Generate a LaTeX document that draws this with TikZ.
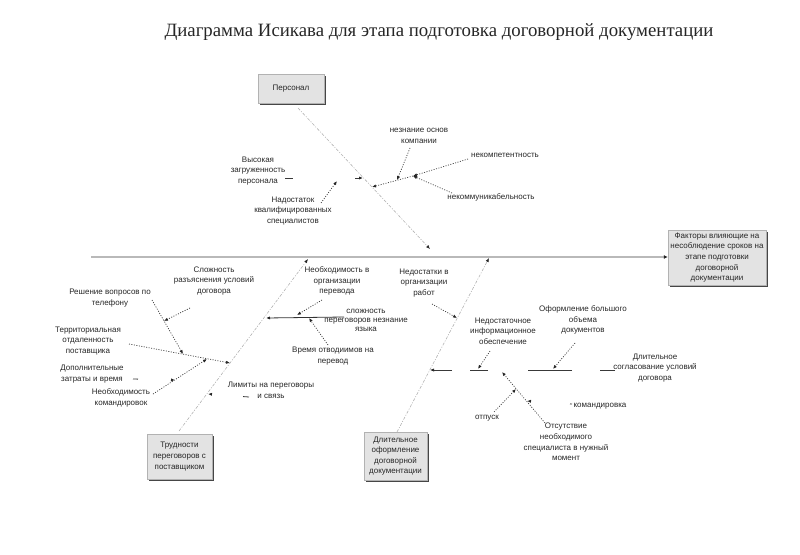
\documentclass[tikz,border=0pt]{standalone}
\usepackage{fontspec}
\setmainfont{Liberation Sans}
\newfontfamily\titlefont{Liberation Serif}
\usetikzlibrary{arrows.meta,shadows}
\newcommand\lblfont{\fontsize{8}{10.6}\selectfont}
\newcommand\lbltight{\fontsize{8}{9}\selectfont}
\begin{document}
\begin{tikzpicture}[x=1pt,y=-1pt,
  lbl/.style={font=\lblfont, text=black!85, align=center, inner sep=0pt},
  catbox/.style={draw=gray!60, fill=gray!22, font=\lblfont, text=black!85, align=center, inner sep=1pt,
    drop shadow={shadow xshift=1.5pt, shadow yshift=-1.5pt, fill=gray!55!black, opacity=1}},
  tipped/.style={-{Latex[length=4pt,width=3.2pt,color=black!85]}},
  spine/.style={draw=gray!55, line width=2pt, -{Latex[length=4pt,width=4pt,color=black!85]}},
  bone/.style={tipped, draw=gray!60, line width=0.6pt, dash pattern=on 3pt off 1.5pt on 1pt off 1.5pt},
  sub/.style={tipped, draw=gray!45!black, line width=0.7pt, dash pattern=on 1pt off 1.5pt},
  stub/.style={tipped, draw=gray!45!black, line width=0.8pt},
  solidsub/.style={tipped, draw=black!80, line width=0.8pt}]
\useasboundingbox (0,0) rectangle (800,554);

% title
\node[font=\titlefont\fontsize{18.8}{20}\selectfont, text=black!85] (title) at (439,32)
  {Диаграмма Исикава для этапа подготовка договорной документации};

% category boxes
\node[catbox, minimum width=66pt, minimum height=29pt] (pers) at (291,88.5) {Персонал};
\node[catbox, minimum width=98pt, minimum height=55pt] (goal) at (717,257.5)
  {Факторы влияющие на\\несоблюдение сроков на\\этапе подготовки\\договорной\\документации};
\node[catbox, minimum width=65pt, minimum height=45pt] (trud) at (179.5,456.5)
  {Трудности\\переговоров с\\поставщиком};
\node[catbox, minimum width=63pt, minimum height=48pt] (dlit) at (395.5,456)
  {Длительное\\оформление\\договорной\\документации};

% spine
\coordinate (s0) at (91,257);
\draw[spine] (s0) -- (goal.west |- s0);

% main bones
\coordinate (pA) at (298,108); \coordinate (pB) at (430,249);
\coordinate (tA) at (179,431); \coordinate (tB) at (308,259);
\coordinate (dA) at (397,432); \coordinate (dB) at (489,258);
\draw[bone] (pA) -- (pB);
\draw[bone] (tA) -- (tB);
\draw[bone] (dA) -- (dB);

% ---- Персонал group
\node[lbl] (vys) at (258,171) {Высокая\\загруженность\\персонала};
\coordinate (vysS) at (285,178); \coordinate (vysT) at (363,178);
\draw[stub, dash pattern=on 8pt off 62pt on 8pt] (vysS) -- (vysT);
\node[lbl] (nedo) at (293,211) {Надостаток\\квалифицированных\\специалистов};
\coordinate (nedoS) at (321,203); \coordinate (nedoT) at (337,181);
\draw[sub] (nedoS) -- (nedoT);
\node[lbl] (zn) at (419,136) {незнание основ\\компании};
\node[lbl] (komp) at (505,155) {некомпетентность};
\node[lbl] (komm) at (491,197) {некоммуникабельность};
\coordinate (j1) at (413,176); \coordinate (pT) at (372,187);
\coordinate (kompS) at (468,159); \coordinate (kommS) at (452,193);
\coordinate (znS) at (410,148); \coordinate (znT) at (397,180);
\draw[sub] (kompS) -- (j1);
\draw[sub] (kommS) -- (j1);
\draw[sub] (j1) -- (pT);
\draw[sub] (znS) -- (znT);

% ---- Трудности group
\node[lbl] (lim) at (271,390) {Лимиты на переговоры\\и связь};
\coordinate (limS) at (249,397); \coordinate (limT) at (208,394);
\draw[stub, dash pattern=on 6pt off 60pt] (limS) -- (limT);
\node[lbl] (terr) at (88,341) {Территориальная\\отдаленность\\поставщика};
\coordinate (terrS) at (129,344); \coordinate (terrT) at (230,363);
\draw[sub] (terrS) -- (terrT);
\node[lbl] (kom) at (121,398) {Необходимость\\командировок};
\coordinate (komS) at (153,394); \coordinate (komT) at (207,359);
\draw[sub] (komS) -- (komT);
\node[lbl] (dop) at (92,374) {Дополнительные\\затраты и время};
\coordinate (dopS) at (133,379); \coordinate (dopT) at (175,380);
\draw[stub, dash pattern=on 5pt off 60pt] (dopS) -- (dopT);
\node[lbl] (resh) at (110,298) {Решение вопросов по\\телефону};
\coordinate (reshS) at (152,300); \coordinate (reshT) at (183,354);
\draw[sub] (reshS) -- (reshT);
\node[lbl] (slr) at (214,281) {Сложность\\разъяснения условий\\договора};
\coordinate (slrS) at (190,308); \coordinate (slrT) at (164,321);
\draw[sub] (slrS) -- (slrT);
\node[lbl, font=\lbltight] (slp) at (366,320) {сложность\\переговоров незнание\\языка};
\coordinate (slpS) at (344,317); \coordinate (slpT) at (266,318);
\draw[solidsub] (slpS) -- (slpT);
\node[lbl] (neop) at (337,281) {Необходимость в\\организации\\перевода};
\coordinate (neopS) at (322,300); \coordinate (neopT) at (297,315);
\draw[sub] (neopS) -- (neopT);
\node[lbl] (vrem) at (333,356) {Время отводиимов на\\перевод};
\coordinate (vremS) at (328,345); \coordinate (vremT) at (309,318);
\draw[sub] (vremS) -- (vremT);

% ---- Длительное оформление group
\node[lbl] (nedr) at (424,283) {Недостатки в\\организации\\работ};
\coordinate (nedrS) at (432,304); \coordinate (nedrT) at (457,318);
\draw[sub] (nedrS) -- (nedrT);
\node[lbl] (dsog) at (655,368) {Длительное\\согласование условий\\договора};
\coordinate (dsogS) at (615,370); \coordinate (dsogT) at (430,370);
\draw[stub, line width=0.7pt, dash pattern=on 15pt off 28pt on 44pt off 40pt on 18pt off 18pt on 25pt off 20pt] (dsogS) -- (dsogT);
\node[lbl] (nedi) at (503,331) {Недостаточное\\информационное\\обеспечение};
\coordinate (nediS) at (490,351); \coordinate (nediT) at (478,369);
\draw[sub] (nediS) -- (nediT);
\node[lbl] (ofor) at (583,320) {Оформление большого\\объема\\документов};
\coordinate (oforS) at (575,343); \coordinate (oforT) at (553,369);
\draw[sub] (oforS) -- (oforT);
\node[lbl] (ots) at (566,442) {Отсутствие\\необходимого\\специалиста в нужный\\момент};
\coordinate (otsS) at (545,423); \coordinate (otsT) at (502,372);
\draw[sub] (otsS) -- (otsT);
\node[lbl] (otp) at (487,418) {отпуск};
\coordinate (otpS) at (494,412); \coordinate (otpT) at (516,389);
\draw[sub] (otpS) -- (otpT);
\node[lbl] (kmd) at (600,406) {командировка};
\coordinate (kmdS) at (572,404); \coordinate (kmdT) at (527,401);
\draw[stub, dash pattern=on 2pt off 60pt] (kmdS) -- (kmdT);
\end{tikzpicture}
\end{document}
